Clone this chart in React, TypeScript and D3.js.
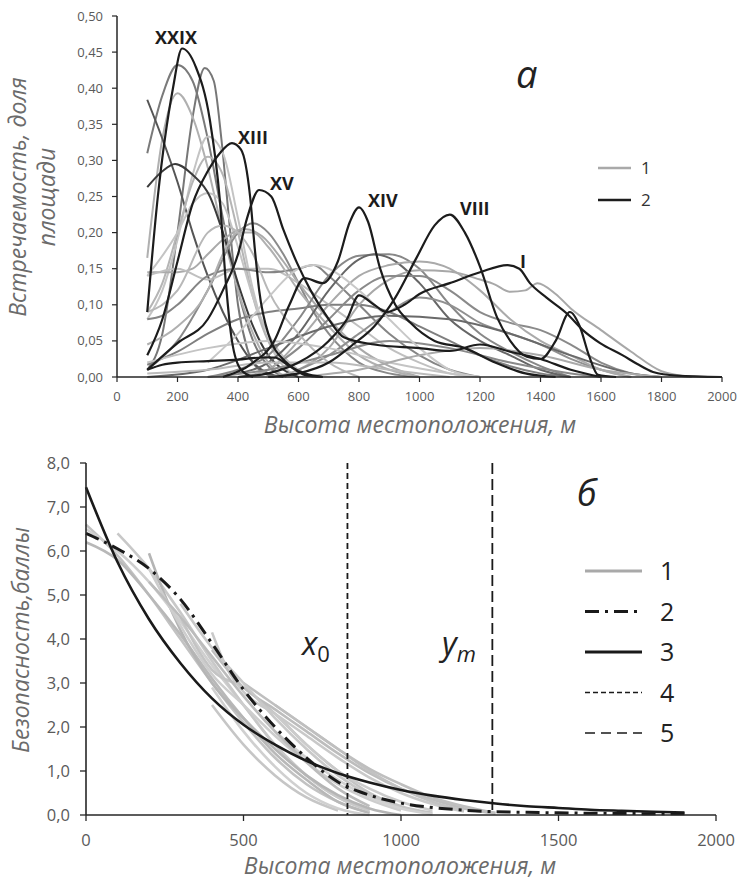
import React from "react";
import * as d3 from "d3";

// ---- chart a: occurrence share vs elevation ----
// group 1 (grey) curves, [elevation m, share]
const g01 = [[100,0.31],[150,0.39],[200,0.432],[250,0.41],[300,0.33],[350,0.22],[400,0.12],[450,0.05],[500,0.015],[550,0]];
const g02 = [[100,0.01],[150,0.06],[200,0.2],[250,0.36],[290,0.428],[320,0.41],[345,0.33],[370,0.22],[400,0.1],[430,0.04],[470,0.01],[520,0]];
const g03 = [[100,0.165],[150,0.33],[200,0.393],[250,0.36],[300,0.29],[350,0.2],[400,0.12],[450,0.06],[500,0.02],[560,0]];
const g04 = [[100,0.384],[150,0.33],[200,0.27],[250,0.2],[300,0.14],[350,0.09],[400,0.05],[450,0.02],[500,0.005],[550,0]];
const g05 = [[100,0.08],[150,0.12],[200,0.19],[250,0.28],[300,0.333],[350,0.31],[400,0.22],[450,0.12],[500,0.05],[550,0.015],[600,0]];
const g06 = [[100,0.09],[150,0.13],[200,0.2],[250,0.27],[300,0.305],[350,0.28],[400,0.2],[450,0.11],[500,0.05],[600,0.01],[650,0]];
const g07 = [[100,0.14],[200,0.2],[250,0.24],[300,0.255],[350,0.24],[400,0.18],[450,0.11],[500,0.06],[600,0.01],[650,0]];
const g08 = [[100,0.263],[150,0.285],[192,0.295],[250,0.28],[307,0.25],[350,0.2],[400,0.13],[450,0.07],[500,0.03],[550,0.01],[600,0]];
const g09 = [[100,0.01],[200,0.05],[300,0.12],[400,0.2],[450,0.213],[500,0.2],[550,0.17],[600,0.13],[650,0.09],[700,0.06],[800,0.02],[900,0.005],[1000,0]];
const g10 = [[100,0.145],[200,0.145],[250,0.15],[300,0.17],[350,0.19],[420,0.205],[480,0.195],[550,0.16],[600,0.13],[700,0.08],[800,0.04],[900,0.015],[1000,0]];
const g11 = [[100,0.14],[200,0.15],[300,0.135],[400,0.15],[500,0.15],[600,0.13],[700,0.1],[800,0.07],[900,0.04],[1000,0.02],[1100,0.005],[1200,0]];
const g12 = [[100,0.08],[150,0.085],[200,0.1],[300,0.14],[400,0.15],[500,0.145],[600,0.15],[650,0.155],[700,0.14],[800,0.1],[900,0.06],[1000,0.03],[1100,0.01],[1200,0]];
const g13 = [[100,0.045],[200,0.07],[300,0.12],[350,0.17],[400,0.2],[450,0.2],[500,0.18],[600,0.12],[700,0.07],[800,0.03],[900,0.01],[1000,0]];
const g14 = [[100,0.017],[200,0.035],[300,0.06],[400,0.08],[500,0.09],[600,0.095],[700,0.1],[800,0.1],[900,0.09],[1000,0.07],[1100,0.05],[1200,0.03],[1300,0.015],[1400,0.005],[1500,0]];
const g15 = [[300,0],[400,0.01],[500,0.03],[600,0.08],[700,0.14],[800,0.168],[900,0.17],[1000,0.15],[1100,0.1],[1200,0.06],[1300,0.035],[1400,0.015],[1500,0]];
const g16 = [[400,0.005],[500,0.02],[600,0.06],[700,0.12],[800,0.163],[850,0.17],[900,0.165],[1000,0.13],[1100,0.08],[1200,0.05],[1300,0.03],[1400,0.01],[1500,0]];
const g17 = [[500,0],[600,0.01],[700,0.04],[800,0.1],[900,0.135],[1000,0.148],[1100,0.146],[1200,0.135],[1250,0.128],[1300,0.118],[1350,0.12],[1390,0.13],[1450,0.115],[1500,0.095],[1600,0.065],[1700,0.035],[1800,0.008],[1900,0]];
const g18 = [[500,0.01],[600,0.04],[700,0.08],[800,0.12],[900,0.14],[1000,0.14],[1100,0.12],[1200,0.09],[1300,0.075],[1400,0.065],[1500,0.045],[1600,0.02],[1700,0.005],[1800,0]];
const g19 = [[600,0.01],[700,0.03],[800,0.06],[900,0.09],[1000,0.11],[1100,0.1],[1200,0.075],[1300,0.06],[1400,0.045],[1500,0.025],[1600,0.01],[1700,0]];
const g20 = [[400,0],[500,0.01],[600,0.05],[700,0.1],[800,0.14],[900,0.155],[1000,0.16],[1100,0.15],[1200,0.12],[1300,0.08],[1400,0.05],[1500,0.03],[1600,0.01],[1700,0]];
const g21 = [[100,0],[300,0.01],[500,0.04],[700,0.07],[900,0.085],[1100,0.08],[1300,0.06],[1500,0.03],[1700,0.005],[1800,0]];
const g22 = [[100,0.02],[300,0.04],[500,0.05],[700,0.04],[900,0.02],[1100,0.005],[1200,0]];
const g23 = [[300,0],[500,0.01],[700,0.03],[900,0.05],[1100,0.04],[1300,0.02],[1500,0.005],[1600,0]];
const g24 = [[600,0],[800,0.01],[1000,0.03],[1200,0.04],[1400,0.03],[1600,0.01],[1800,0]];
const g25 = [[100,0.005],[300,0.01],[500,0.02],[700,0.02],[900,0.01],[1100,0]];
const g26 = [[100,0.09],[150,0.1],[200,0.12],[300,0.2],[350,0.21],[400,0.2],[450,0.17],[500,0.12],[600,0.06],[700,0.02],[800,0]];
const g27 = [[300,0.02],[400,0.06],[500,0.11],[600,0.15],[650,0.155],[700,0.15],[800,0.12],[900,0.08],[1000,0.04],[1100,0.01],[1200,0]];

// group 2 (black) curves
const sXXIX = [[100,0.09],[135,0.25],[185,0.4],[215,0.455],[260,0.43],[307,0.356],[340,0.245],[360,0.13],[380,0.05],[410,0.01],[450,0]];
const sXIII = [[100,0.03],[150,0.08],[200,0.16],[250,0.24],[300,0.285],[340,0.31],[380,0.324],[410,0.315],[440,0.25],[455,0.18],[470,0.12],[500,0.06],[560,0.02],[620,0.005],[680,0]];
const sXV = [[100,0.01],[200,0.047],[300,0.08],[350,0.12],[400,0.17],[430,0.22],[470,0.259],[510,0.25],[550,0.204],[595,0.158],[640,0.12],[700,0.08],[750,0.055],[850,0.045],[1000,0.04],[1100,0.036],[1200,0.045],[1300,0.035],[1400,0.025],[1500,0.01],[1600,0]];
const sXIV = [[350,0],[450,0.02],[520,0.05],[570,0.1],[620,0.137],[680,0.13],[730,0.16],[770,0.215],[800,0.235],[830,0.215],[870,0.15],[920,0.1],[970,0.075],[1050,0.05],[1150,0.04],[1250,0.02],[1350,0.005],[1450,0]];
const sVIII = [[500,0],[600,0.005],[700,0.02],[780,0.045],[850,0.07],[920,0.11],[990,0.165],[1050,0.21],[1100,0.225],[1150,0.2],[1200,0.153],[1256,0.083],[1300,0.05],[1355,0.028],[1400,0.025],[1450,0.05],[1497,0.09],[1530,0.07],[1560,0.03],[1590,0.003],[1650,0]];
const sI = [[400,0],[500,0.005],[600,0.02],[700,0.05],[760,0.08],[800,0.113],[850,0.1],[890,0.09],[950,0.1],[1000,0.115],[1100,0.13],[1200,0.145],[1290,0.155],[1330,0.15],[1365,0.13],[1420,0.11],[1487,0.088],[1540,0.065],[1597,0.047],[1672,0.03],[1720,0.018],[1772,0.007],[1850,0.002],[2000,0]];
const sLow = [[100,0.01],[150,0.017],[200,0.02],[300,0.022],[400,0.024],[480,0.027],[520,0.027],[570,0.015],[620,0.003],[680,0]];

const topGrey = [
  [g01, "#7a7a7a"], [g02, "#777"], [g03, "#b0b0b0"], [g04, "#555"], [g05, "#c4c4c4"],
  [g06, "#b5b5b5"], [g07, "#c4c4c4"], [g08, "#3a3a3a"], [g09, "#8a8a8a"], [g10, "#aaa"],
  [g11, "#c0c0c0"], [g12, "#858585"], [g13, "#b0b0b0"], [g14, "#7f7f7f"], [g15, "#888"],
  [g16, "#666"], [g17, "#a8a8a8"], [g18, "#8a8a8a"], [g19, "#909090"], [g20, "#aaa"],
  [g21, "#6a6a6a"], [g22, "#c4c4c4"], [g23, "#8a8a8a"], [g24, "#aaa"], [g25, "#bbb"],
  [g26, "#b8b8b8"], [g27, "#c8c8c8"],
];
const topBlack = [sXXIX, sXIII, sXV, sXIV, sVIII, sI, sLow];

const romanLabels = [
  ["XXIX", 155, 44], ["XIII", 238, 144], ["XV", 270, 190],
  ["XIV", 368, 207], ["VIII", 460, 215], ["I", 520, 268],
];

// ---- chart б: safety score vs elevation ----
const b01 = [[0,6.6],[100,5.9],[200,5.0],[300,4.0],[400,3.0],[500,2.1],[600,1.3],[700,0.7],[800,0.3],[900,0.05]];
const b02 = [[0,6.2],[100,5.8],[200,5.0],[300,4.1],[400,3.1],[500,2.2],[600,1.4],[700,0.8],[800,0.3],[900,0.05]];
const b03 = [[0,6.5],[100,6.0],[200,5.3],[300,4.4],[400,3.4],[500,2.5],[600,1.6],[700,0.9],[800,0.4],[900,0.1]];
const b04 = [[100,6.4],[200,5.6],[300,4.6],[400,3.5],[500,2.5],[600,1.6],[700,0.9],[800,0.4],[900,0.1]];
const b05 = [[200,5.95],[250,5.0],[300,4.2],[400,3.0],[500,2.2],[600,1.5],[700,0.9],[800,0.45],[900,0.15],[1000,0]];
const b06 = [[200,5.6],[300,4.3],[400,3.2],[500,2.5],[600,1.8],[700,1.2],[800,0.7],[900,0.35],[1000,0.1]];
const b07 = [[300,4.5],[400,3.3],[500,2.9],[600,2.3],[700,1.6],[800,1.0],[900,0.5],[1000,0.2],[1100,0.05]];
const b08 = [[400,4.15],[450,3.3],[500,2.8],[600,2.3],[700,1.8],[800,1.3],[900,0.85],[1000,0.5],[1100,0.25],[1200,0.08]];
const b09 = [[400,3.75],[500,2.9],[600,2.4],[700,1.9],[800,1.4],[900,0.95],[1000,0.6],[1100,0.35],[1200,0.15],[1300,0.03]];
const b10 = [[400,2.5],[500,1.6],[600,0.9],[700,0.4],[800,0.1]];
const b11 = [[400,2.9],[500,1.9],[600,1.1],[700,0.5],[800,0.15],[900,0]];
const b12 = [[600,2.5],[700,2.0],[800,1.5],[900,1.0],[1000,0.6],[1100,0.3],[1200,0.1]];
const b13 = [[600,2.3],[700,1.6],[800,1.0],[900,0.6],[1000,0.3],[1100,0.1]];
const b14 = [[500,3.0],[600,2.5],[700,2.0],[800,1.5],[900,1.05],[1000,0.7],[1100,0.4],[1200,0.2],[1300,0.05]];
const b15 = [[300,4.8],[400,3.8],[500,3.0],[600,2.2],[700,1.5],[800,0.9],[900,0.45],[1000,0.15]];
const b16 = [[600,1.9],[700,1.3],[800,0.8],[900,0.4],[1000,0.15],[1100,0.02]];
const b17 = [[200,5.3],[300,4.5],[400,3.6],[500,2.7],[600,1.9],[700,1.2],[800,0.6],[900,0.2]];

const bottomGrey = [
  [b01, "#c2c2c2"], [b02, "#b8b8b8"], [b03, "#cfcfcf"], [b04, "#c8c8c8"], [b05, "#b5b5b5"],
  [b06, "#cdcdcd"], [b07, "#c4c4c4"], [b08, "#c9c9c9"], [b09, "#bdbdbd"], [b10, "#c6c6c6"],
  [b11, "#d0d0d0"], [b12, "#c2c2c2"], [b13, "#cbcbcb"], [b14, "#bfbfbf"], [b15, "#c8c8c8"],
  [b16, "#d2d2d2"], [b17, "#bcbcbc"],
];

const meanCurve = [[0,6.4],[100,6.05],[200,5.6],[300,4.9],[400,3.9],[500,2.85],[600,2.0],[700,1.3],[800,0.75],[900,0.45],[1000,0.27],[1100,0.17],[1200,0.11],[1300,0.075],[1400,0.06],[1500,0.05],[1600,0.04],[1700,0.035],[1800,0.03],[1900,0.03]];
const fitCurve = [[0,7.45],[100,5.75],[200,4.45],[300,3.45],[400,2.65],[500,2.05],[600,1.6],[700,1.23],[800,0.95],[900,0.74],[1000,0.57],[1100,0.44],[1200,0.34],[1300,0.26],[1400,0.2],[1500,0.16],[1600,0.12],[1700,0.095],[1800,0.073],[1900,0.056]];
const x0Value = 830;
const ymValue = 1290;

const legendB = ["1", "2", "3", "4", "5"];

const FONT = "'Open Sans', 'Liberation Sans', sans-serif";

export default function App() {
  // scales
  const xA = d3.scaleLinear().domain([0, 2000]).range([117, 722]);
  const yA = d3.scaleLinear().domain([0, 0.5]).range([377, 16]);
  const xB = d3.scaleLinear().domain([0, 2000]).range([86, 716]);
  const yB = d3.scaleLinear().domain([0, 8]).range([815, 463]);

  const lineA = d3.line().x(d => xA(d[0])).y(d => yA(d[1])).curve(d3.curveMonotoneX);
  const lineB = d3.line().x(d => xB(d[0])).y(d => yB(d[1])).curve(d3.curveMonotoneX);

  const fmtA = v => d3.format(".2f")(v).replace(".", ",");
  const fmtB = v => d3.format(".1f")(v).replace(".", ",");

  const yTicksA = d3.range(0, 0.5001, 0.05);
  const xTicksA = xA.ticks(10);
  const yTicksB = yB.ticks(8);
  const xTicksB = d3.range(0, 2001, 500);

  const axisCol = "#262626";
  const tickCol = "#5a5a5a";
  const titleCol = "#6b6b6b";

  const legendDash = [null, "14,6,3,6", null, "5,3", "10,6"];
  const legendStroke = ["#a9a9a9", "#1a1a1a", "#1a1a1a", "#1a1a1a", "#1a1a1a"];
  const legendWidth = [3, 3, 3, 1.6, 1.6];

  return (
    <div style={{ position: "absolute", left: 0, top: 0 }}>
      <svg width={739} height={888} style={{ display: "block", background: "#fff" }} fontFamily={FONT}>
        {/* ---------- chart a ---------- */}
        <g>
          {topGrey.map(([pts, col], i) => (
            <path key={"ga" + i} d={lineA(pts)} fill="none" stroke={col} strokeWidth={2} />
          ))}
          {topBlack.map((pts, i) => (
            <path key={"ka" + i} d={lineA(pts)} fill="none" stroke="#1c1c1c" strokeWidth={2.2} />
          ))}
          {/* axes */}
          <line x1={xA(0)} x2={xA(0)} y1={yA(0.5)} y2={yA(0)} stroke={axisCol} strokeWidth={1.5} />
          <line x1={xA(0)} x2={xA(2000)} y1={yA(0)} y2={yA(0)} stroke={axisCol} strokeWidth={1.5} />
          {yTicksA.map(t => (
            <g key={"yta" + t}>
              <line x1={xA(0) - 5} x2={xA(0)} y1={yA(t)} y2={yA(t)} stroke={axisCol} strokeWidth={1.2} />
              <text x={xA(0) - 14} y={yA(t)} dy="0.35em" textAnchor="end" fontSize={13} fill={tickCol}>{fmtA(t)}</text>
            </g>
          ))}
          {xTicksA.map(t => (
            <g key={"xta" + t}>
              <line x1={xA(t)} x2={xA(t)} y1={yA(0)} y2={yA(0) + 5} stroke={axisCol} strokeWidth={1.2} />
              <text x={xA(t)} y={yA(0) + 24} textAnchor="middle" fontSize={13} fill={tickCol}>{t}</text>
            </g>
          ))}
          <text x={420} y={433} textAnchor="middle" fontSize={23} fontStyle="italic" fill={titleCol}>Высота местоположения, м</text>
          <text transform="translate(26,197) rotate(-90)" textAnchor="middle" fontSize={23} fontStyle="italic" fill={titleCol}>Встречаемость, доля</text>
          <text transform="translate(55,197) rotate(-90)" textAnchor="middle" fontSize={23} fontStyle="italic" fill={titleCol}>площади</text>
          {romanLabels.map(([s, x, y]) => (
            <text key={s} x={x} y={y} fontSize={18} fontWeight="bold" fill="#1c1c1c">{s}</text>
          ))}
          <text x={516} y={88} fontSize={38} fontStyle="italic" fill="#222">a</text>
          <line x1={598} x2={631} y1={168} y2={168} stroke="#a9a9a9" strokeWidth={2.5} />
          <text x={641} y={168} dy="0.35em" fontSize={17} fill="#333">1</text>
          <line x1={598} x2={631} y1={200} y2={200} stroke="#1c1c1c" strokeWidth={2.5} />
          <text x={641} y={200} dy="0.35em" fontSize={17} fill="#333">2</text>
        </g>

        {/* ---------- chart б ---------- */}
        <g>
          {bottomGrey.map(([pts, col], i) => (
            <path key={"gb" + i} d={lineB(pts)} fill="none" stroke={col} strokeWidth={2.6} />
          ))}
          <path d={lineB(fitCurve)} fill="none" stroke="#1a1a1a" strokeWidth={2.6} />
          <path d={lineB(meanCurve)} fill="none" stroke="#1a1a1a" strokeWidth={3} strokeDasharray="14,6,3,6" />
          <line x1={xB(x0Value)} x2={xB(x0Value)} y1={yB(8)} y2={yB(0)} stroke="#1a1a1a" strokeWidth={1.8} strokeDasharray="6,4" />
          <line x1={xB(ymValue)} x2={xB(ymValue)} y1={yB(8)} y2={yB(0)} stroke="#1a1a1a" strokeWidth={1.8} strokeDasharray="11,5" />
          {/* axes */}
          <line x1={xB(0)} x2={xB(0)} y1={yB(8)} y2={yB(0)} stroke={axisCol} strokeWidth={1.6} />
          <line x1={xB(0)} x2={xB(2000)} y1={yB(0)} y2={yB(0)} stroke={axisCol} strokeWidth={1.6} />
          {yTicksB.map(t => (
            <g key={"ytb" + t}>
              <line x1={xB(0) - 6} x2={xB(0)} y1={yB(t)} y2={yB(t)} stroke={axisCol} strokeWidth={1.3} />
              <text x={xB(0) - 16} y={yB(t)} dy="0.35em" textAnchor="end" fontSize={16.5} fill={tickCol}>{fmtB(t)}</text>
            </g>
          ))}
          {xTicksB.map(t => (
            <g key={"xtb" + t}>
              <line x1={xB(t)} x2={xB(t)} y1={yB(0)} y2={yB(0) + 6} stroke={axisCol} strokeWidth={1.3} />
              <text x={xB(t)} y={yB(0) + 31} textAnchor="middle" fontSize={16.5} fill={tickCol}>{t}</text>
            </g>
          ))}
          <text x={400} y={874} textAnchor="middle" fontSize={23} fontStyle="italic" fill={titleCol}>Высота местоположения, м</text>
          <text transform="translate(29,640) rotate(-90)" textAnchor="middle" fontSize={23} fontStyle="italic" fill={titleCol}>Безопасность,баллы</text>
          <text x={302} y={655} fontSize={32} fontStyle="italic" fill="#222">x<tspan fontStyle="normal" fontSize={22} dy={7}>0</tspan></text>
          <text x={442} y={655} fontSize={32} fontStyle="italic" fill="#222">y<tspan fontSize={22} dy={7}>m</tspan></text>
          <text x={577} y={506} fontSize={36} fontStyle="italic" fill="#222">б</text>
          {legendB.map((s, i) => {
            const y = 571 + i * 40.5;
            return (
              <g key={"lb" + s}>
                <line x1={585} x2={642} y1={y} y2={y} stroke={legendStroke[i]} strokeWidth={legendWidth[i]}
                  strokeDasharray={legendDash[i] || undefined} />
                <text x={660} y={y} dy="0.36em" fontSize={25} fill="#222">{s}</text>
              </g>
            );
          })}
        </g>
      </svg>
    </div>
  );
}
